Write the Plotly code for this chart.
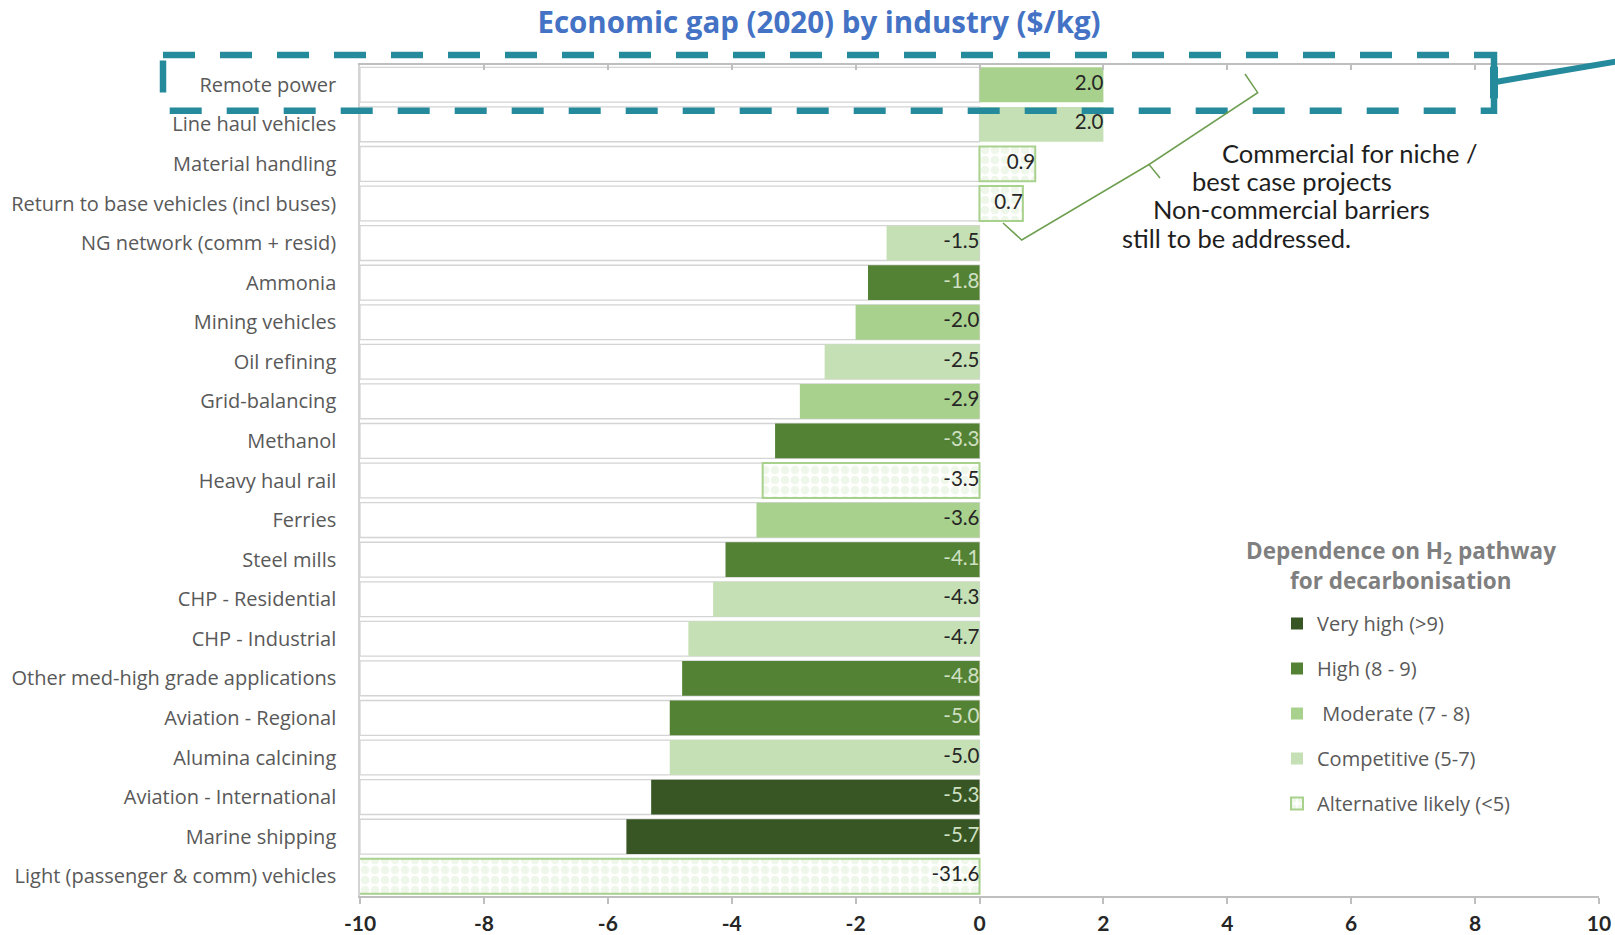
import plotly.graph_objects as go

# ---------------- data ----------------
industries = [
    "Remote power", "Line haul vehicles", "Material handling",
    "Return to base vehicles (incl buses)", "NG network (comm + resid)",
    "Ammonia", "Mining vehicles", "Oil refining", "Grid-balancing", "Methanol",
    "Heavy haul rail", "Ferries", "Steel mills", "CHP - Residential",
    "CHP - Industrial", "Other med-high grade applications",
    "Aviation - Regional", "Alumina calcining", "Aviation - International",
    "Marine shipping", "Light (passenger & comm) vehicles",
]
economic_gap = [2.0, 2.0, 0.9, 0.7, -1.5, -1.8, -2.0, -2.5, -2.9, -3.3,
                -3.5, -3.6, -4.1, -4.3, -4.7, -4.8, -5.0, -5.0, -5.3, -5.7, -31.6]
dependence = ["Moderate", "Competitive", "Alternative", "Alternative", "Competitive",
              "High", "Moderate", "Competitive", "Moderate", "High",
              "Alternative", "Moderate", "High", "Competitive",
              "Competitive", "High", "High", "Competitive", "Very high",
              "Very high", "Alternative"]
dependence_levels = ["Very high", "High", "Moderate", "Competitive", "Alternative"]
legend_names = ["Very high (>9)", "High (8 - 9)", " Moderate (7 - 8)",
                "Competitive (5-7)", "Alternative likely (<5)"]
x_tick_vals = [-10, -8, -6, -4, -2, 0, 2, 4, 6, 8, 10]
x_tick_text = ["-10", "-8", "-6", "-4", "-2", "0", "2", "4", "6", "8", "10"]
x_range = [-10, 10]

# ---------------- style ----------------
fill = {"Very high": "#375623", "High": "#548235", "Moderate": "#A9D18E",
        "Competitive": "#C5E0B4", "Alternative": "#FFFFFF"}
label_col = {"Very high": "#cfe0c3", "High": "#cfe0c3", "Moderate": "#262626",
             "Competitive": "#262626", "Alternative": "#262626"}
BAR_W = 0.88
W, H = 1615, 935
ML, MR, MT, MB = 360, 16, 65, 39
PW, PH = W - ML - MR, H - MT - MB


def px(xp):
    return (xp - ML) / PW


def py(yp):
    return (H - MB - yp) / PH


fig = go.Figure()

# background white rows
fig.add_trace(go.Bar(
    y=industries, x=[x_range[0]] * len(industries), orientation="h", width=BAR_W,
    marker=dict(color="white", line=dict(color="#d4d4d4", width=1.3)),
    showlegend=False, hoverinfo="skip"))

for lvl, name in zip(dependence_levels, legend_names):
    xs = [v if d == lvl else None for v, d in zip(economic_gap, dependence)]
    marker = dict(color=fill[lvl], line=dict(color=fill[lvl], width=0))
    if lvl == "Alternative":
        marker = dict(color="white", line=dict(color="#A9D18E", width=2),
                      pattern=dict(shape=".", fgcolor="#e0efd6", bgcolor="white",
                                   size=10, solidity=0.6))
    fig.add_trace(go.Bar(y=industries, x=xs, orientation="h", width=BAR_W,
                         marker=marker, name=name, legendgroup=lvl,
                         hoverinfo="x+y"))

# value labels
fig.add_trace(go.Scatter(
    y=industries, x=[max(v, 0) for v in economic_gap], mode="text",
    text=[f"{v:.1f}" for v in economic_gap], textposition="middle left",
    textfont=dict(family="Lato, sans-serif", size=20.5,
                  color=[label_col[d] for d in dependence]),
    showlegend=False, hoverinfo="skip", cliponaxis=False))

# invisible trace anchoring the top axis
fig.add_trace(go.Scatter(x=x_range, y=[industries[0]] * 2, xaxis="x2", mode="markers",
                         marker=dict(opacity=0), showlegend=False, hoverinfo="skip"))

shapes = []
teal = "#258A9B"
shapes.append(dict(type="rect", xref="paper", yref="paper",
                   x0=px(163), x1=px(1494), y0=py(55), y1=py(110.7),
                   line=dict(color=teal, width=6.5, dash="32px,25px")))
shapes.append(dict(type="line", xref="paper", yref="paper",
                   x0=px(1494), x1=px(1494), y0=py(66.7), y1=py(98.3),
                   line=dict(color=teal, width=8)))
shapes.append(dict(type="line", xref="paper", yref="paper",
                   x0=px(1497), x1=px(1618), y0=py(81.7), y1=py(61.2),
                   line=dict(color=teal, width=6)))
# bracket
pts1 = [(1245, 74), (1257.7, 92.7), (1149, 164.5), (1160, 178)]
pts2 = [(1149, 164.5), (1021.7, 240), (1003, 223)]


def path(pts):
    return "M" + " L".join(f"{px(a):.5f},{py(b):.5f}" for a, b in pts)


shapes.append(dict(type="path", xref="paper", yref="paper",
                   path=path(pts1) + " " + path(pts2),
                   line=dict(color="#6E9E50", width=1.5)))

annotations = []
note_lines = [("Commercial for niche /", 1220, 152.5), ("best case projects", 1190, 181),
              ("Non-commercial barriers", 1151, 209), ("still to be addressed.", 1120, 238)]
for txt, xp, yp in note_lines:
    annotations.append(dict(text=txt, xref="paper", yref="paper", x=px(xp), y=py(yp),
                            xanchor="left", yanchor="middle", showarrow=False,
                            font=dict(family="Lato, sans-serif", size=25.5, color="#1e1e1e")))
legend_title_lines = [("Dependence on H<sub>2</sub> pathway", 552),
                      ("for decarbonisation", 580)]
for txt, yp in legend_title_lines:
    annotations.append(dict(text=txt, xref="paper", yref="paper", x=px(1401), y=py(yp),
                            xanchor="center", yanchor="middle", showarrow=False,
                            align="center", borderpad=0,
                            font=dict(family="Open Sans, sans-serif", size=22.5,
                                      color="#7f7f7f", weight="bold")))

fig.update_layout(
    width=W, height=H, margin=dict(l=ML, r=MR, t=MT, b=MB),
    paper_bgcolor="white", plot_bgcolor="white", barmode="overlay",
    title=dict(text="<b>Economic gap (2020) by industry ($/kg)</b>",
               xref="paper", yref="container", x=px(819), y=1 - 22.7 / H,
               xanchor="center", yanchor="middle",
               font=dict(family="Open Sans, sans-serif", size=29.5, color="#4472C4")),
    xaxis=dict(range=x_range, tickvals=x_tick_vals, ticktext=x_tick_text,
               ticks="outside", ticklen=6, tickcolor="#bfbfbf", tickwidth=1.5,
               showline=True, linecolor="#bfbfbf", linewidth=1.5, showgrid=False,
               zeroline=False, automargin=False, ticklabelstandoff=2,
               tickfont=dict(family="Lato, sans-serif", size=21, color="#262626",
                             weight="bold")),
    xaxis2=dict(range=x_range, tickvals=x_tick_vals, overlaying="x", side="top",
                ticks="inside", ticklen=5, tickcolor="#bfbfbf", tickwidth=1.5,
                showline=True, linecolor="#bfbfbf", linewidth=1.5, showgrid=False,
                zeroline=False, showticklabels=False, automargin=False),
    yaxis=dict(categoryorder="array", categoryarray=industries, range=[20.5, -0.5],
               showline=True, linecolor="#d4d4d4", linewidth=1.5, showgrid=False,
               ticks="outside", ticklen=18, tickcolor="rgba(0,0,0,0)", automargin=False,
               tickfont=dict(family="Open Sans, sans-serif", size=20, color="#595959")),
    legend=dict(x=px(1277), y=py(604), xanchor="left", yanchor="top",
                tracegroupgap=16, itemwidth=30, bgcolor="rgba(0,0,0,0)",
                font=dict(family="Open Sans, sans-serif", size=20, color="#595959")),
    shapes=shapes, annotations=annotations,
)

fig.write_html("out.html")
